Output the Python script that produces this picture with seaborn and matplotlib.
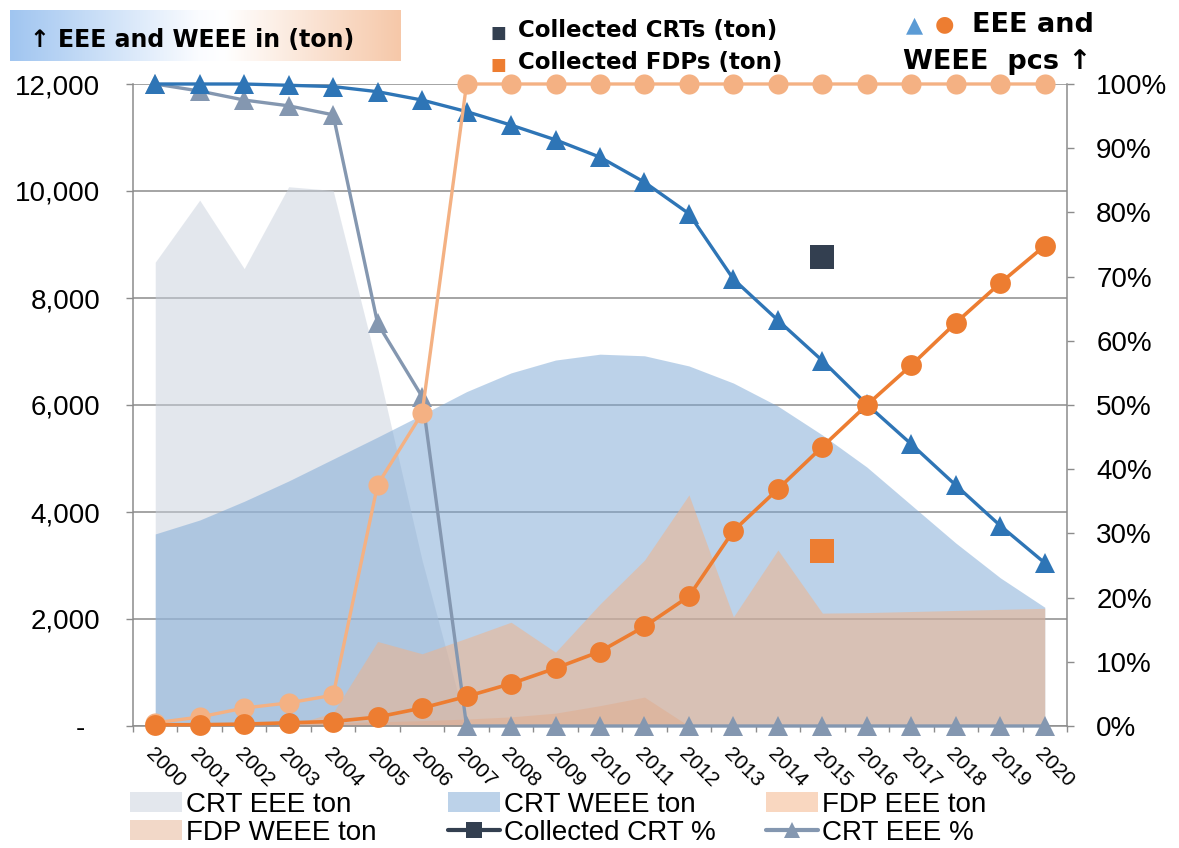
import numpy as np
import pandas as pd
import matplotlib
matplotlib.use("Agg")
import matplotlib.pyplot as plt
import seaborn as sns
from matplotlib.lines import Line2D
from matplotlib.patches import Patch
from matplotlib.colors import LinearSegmentedColormap
from matplotlib.ticker import FixedLocator, FuncFormatter

# ---------------- data ----------------
years = list(range(2000, 2021))
year_labels = [str(y) for y in years]

# tonnes (left axis)
crt_eee_ton = [8670, 9830, 8550, 10080, 10010, 6700, 3100, 0, 0, 0, 0,
               0, 0, 0, 0, 0, 0, 0, 0, 0, 0]
crt_weee_ton = [3590, 3850, 4200, 4580, 4990, 5400, 5820, 6250, 6600, 6840, 6950,
                6920, 6730, 6410, 5980, 5440, 4840, 4130, 3420, 2770, 2220]
fdp_eee_ton = [0, 0, 0, 0, 250, 1580, 1350, 1640, 1940, 1380, 2280,
               3100, 4320, 2040, 3290, 2110, 2120, 2140, 2160, 2180, 2200]
fdp_weee_ton = [0, 0, 20, 40, 60, 80, 100, 130, 170, 240, 380,
                540, 0, 0, 0, 0, 0, 0, 0, 0, 0]

# percentages (right axis)
crt_weee_pct = [100, 100, 100, 99.8, 99.6, 98.8, 97.5, 95.7, 93.6, 91.3, 88.6,
                84.7, 79.8, 69.6, 63.2, 56.9, 50.1, 43.9, 37.5, 31.2, 25.4]
crt_eee_pct = [100, 98.9, 97.5, 96.6, 95.2, 62.7, 51.3, 0, 0, 0, 0,
               0, 0, 0, 0, 0, 0, 0, 0, 0, 0]
fdp_eee_pct = [0.5, 1.4, 2.8, 3.6, 4.8, 37.6, 48.7, 100, 100, 100, 100,
               100, 100, 100, 100, 100, 100, 100, 100, 100, 100]
fdp_weee_pct = [0.2, 0.2, 0.3, 0.5, 0.7, 1.4, 2.8, 4.6, 6.6, 9.0, 11.6,
                15.5, 20.2, 30.4, 36.9, 43.5, 50.0, 56.2, 62.8, 69.0, 74.8]
collected_crt_pct = [73.05]
collected_fdp_pct = [27.3]
collected_year = [2015]

left_ticks = [0, 2000, 4000, 6000, 8000, 10000, 12000]
left_tick_labels = ["-  ", "2,000", "4,000", "6,000", "8,000", "10,000", "12,000"]

# ---------------- style ----------------
sns.set_theme(style="white")
plt.rcParams["font.family"] = ["Liberation Sans", "DejaVu Sans"]
plt.rcParams["text.color"] = "black"
plt.rcParams["xtick.color"] = "black"
plt.rcParams["ytick.color"] = "black"

C_GRID = "#8C8C8C"
C_CRT_EEE = "#C9D1DD"
C_CRT_WEEE = "#7BA7D5"
C_FDP_EEE = "#F4B183"
C_FDP_WEEE = "#E3A987"
C_BLUE = "#2E75B6"
C_GRAY = "#8497B0"
C_LORANGE = "#F4B183"
C_ORANGE = "#ED7D31"
C_NAVY = "#333F50"

W, H = 1179, 848
fig = plt.figure(figsize=(W / 100, H / 100), dpi=100)
ax = fig.add_axes([133 / W, 1 - 726 / H, (1067 - 133) / W, (726 - 84) / H])
ax2 = ax.twinx()

x = np.arange(len(years))
year_idx = {y: i for i, y in enumerate(years)}

# ---------------- areas (left axis) ----------------
ax.fill_between(x, 0, crt_eee_ton, color=C_CRT_EEE, alpha=0.5, linewidth=0, zorder=2)
ax.fill_between(x, 0, crt_weee_ton, color=C_CRT_WEEE, alpha=0.5, linewidth=0, zorder=2)
ax.fill_between(x, 0, fdp_eee_ton, color=C_FDP_EEE, alpha=0.5, linewidth=0, zorder=2)
ax.fill_between(x, 0, fdp_weee_ton, color=C_FDP_WEEE, alpha=0.45, linewidth=0, zorder=2)

ax.set_xlim(-0.5, 20.5)
ax.set_ylim(0, 12000)
ax.set_axisbelow(True)
ax.yaxis.grid(True, color=C_GRID, linewidth=1.1)
ax.xaxis.grid(False)

ax.yaxis.set_major_locator(FixedLocator(left_ticks))
ax.set_yticklabels(left_tick_labels)
ax.tick_params(axis="y", which="major", length=5, width=1, color=C_GRID,
               direction="out", pad=18.5, labelsize=20, left=True,
               labelcolor="black")

ax.set_xticks(x)
ax.set_xticklabels(year_labels, rotation=-45, ha="left", va="top",
                   rotation_mode="anchor", fontsize=15, color="black")
ax.tick_params(axis="x", which="major", length=0, pad=13, bottom=True)
ax.set_xticks(np.arange(-0.5, 21, 1.0), minor=True)
ax.tick_params(axis="x", which="minor", length=4.5, width=1, color=C_GRID,
               direction="out", bottom=True)

for side in ["left", "right", "bottom"]:
    ax.spines[side].set_color(C_GRID)
    ax.spines[side].set_linewidth(1.1)
ax.spines["top"].set_visible(False)

# ---------------- lines (right axis) ----------------
common = dict(ax=ax2, clip_on=False, markeredgewidth=0, legend=False)
sns.lineplot(x=x, y=np.array(crt_eee_pct) / 100, color=C_GRAY, marker="^",
             markersize=14, linewidth=2.4, zorder=3, **common)
sns.lineplot(x=x, y=np.array(crt_weee_pct) / 100, color=C_BLUE, marker="^",
             markersize=14, linewidth=2.4, zorder=4, **common)
sns.lineplot(x=x, y=np.array(fdp_eee_pct) / 100, color=C_LORANGE, marker="o",
             markersize=14.5, linewidth=2.4, zorder=5, **common)
sns.lineplot(x=x, y=np.array(fdp_weee_pct) / 100, color=C_ORANGE, marker="o",
             markersize=15, linewidth=2.6, zorder=6, **common)

cx = [year_idx[y] for y in collected_year]
sns.scatterplot(x=cx, y=np.array(collected_crt_pct) / 100, ax=ax2, color=C_NAVY,
                marker="s", s=17.5 ** 2, linewidth=0, zorder=7, legend=False)
sns.scatterplot(x=cx, y=np.array(collected_fdp_pct) / 100, ax=ax2, color=C_ORANGE,
                marker="s", s=17.5 ** 2, linewidth=0, zorder=7, legend=False)

ax2.set_ylim(0, 1)
ax2.set_xlim(-0.5, 20.5)
ax2.yaxis.set_major_locator(FixedLocator(np.linspace(0, 1, 11)))
ax2.yaxis.set_major_formatter(FuncFormatter(lambda v, p: f"{v * 100:.0f}%"))
ax2.tick_params(axis="y", which="major", length=5, width=1, color=C_GRID,
                direction="out", pad=16, labelsize=20, right=True,
                labelcolor="black")
ax2.grid(False)
for side in ["left", "right", "bottom", "top"]:
    ax2.spines[side].set_visible(False)
ax.spines["right"].set_visible(True)

# ---------------- gradient title box ----------------
gax = fig.add_axes([10 / W, 1 - 61 / H, 390 / W, 51 / H])
cmap = LinearSegmentedColormap.from_list(
    "g", [(0.0, "#A0C5F0"), (0.48, "#FAFCFF"), (0.55, "#FFFFFF"), (1.0, "#F6C8A9")])
gax.imshow(np.linspace(0, 1, 256)[None, :], aspect="auto", cmap=cmap,
           extent=[0, 1, 0, 1])
gax.set_axis_off()
fig.text(30 / W, 1 - 40 / H, "↑ EEE and WEEE in (ton)", fontsize=17,
         fontweight="bold", family=["DejaVu Sans"], va="center", ha="left")

# top legend-like texts
fig.text(491 / W, 1 - 33 / H, "■", color=C_NAVY, fontsize=12,
         family=["DejaVu Sans"], va="center", ha="left")
fig.text(518 / W, 1 - 30 / H, "Collected CRTs (ton)", fontsize=16.5,
         fontweight="bold", family=["DejaVu Sans"], va="center", ha="left")
fig.text(491 / W, 1 - 65 / H, "■", color=C_ORANGE, fontsize=12,
         family=["DejaVu Sans"], va="center", ha="left")
fig.text(518 / W, 1 - 62 / H, "Collected FDPs (ton)", fontsize=16.5,
         fontweight="bold", family=["DejaVu Sans"], va="center", ha="left")

# top-right label
fig.text(906 / W, 1 - 25 / H, "▲", color="#5B9BD5", fontsize=16,
         family=["DejaVu Sans"], va="center", ha="left")
fig.text(935 / W, 1 - 24 / H, "●", color=C_ORANGE, fontsize=16,
         family=["DejaVu Sans"], va="center", ha="left")
fig.text(972 / W, 1 - 25 / H, "EEE and", fontsize=19.5,
         fontweight="bold", family=["DejaVu Sans"], va="center", ha="left")
fig.text(903 / W, 1 - 62 / H, "WEEE  pcs ↑", fontsize=19.5,
         fontweight="bold", family=["DejaVu Sans"], va="center", ha="left")

# ---------------- bottom legend ----------------
leg_kw = dict(loc="upper left", frameon=False, borderpad=0, borderaxespad=0,
              handlelength=1.87, handleheight=0.72, handletextpad=0.15,
              labelspacing=0.07, fontsize=20)
top_y = 1 - 792 / H
h_crt_eee = Patch(facecolor=C_CRT_EEE, alpha=0.5, linewidth=0)
h_crt_weee = Patch(facecolor=C_CRT_WEEE, alpha=0.5, linewidth=0)
h_fdp_eee = Patch(facecolor=C_FDP_EEE, alpha=0.5, linewidth=0)
h_fdp_weee = Patch(facecolor=C_FDP_WEEE, alpha=0.45, linewidth=0)
h_coll = Line2D([], [], color=C_NAVY, linewidth=3, marker="s", markersize=11,
                markeredgewidth=0)
h_crtpct = Line2D([], [], color=C_GRAY, linewidth=3, marker="^", markersize=11,
                  markeredgewidth=0)

fig.legend([h_crt_eee, h_fdp_weee], ["CRT EEE ton", "FDP WEEE ton"],
           bbox_to_anchor=(130 / W, top_y), **leg_kw)
fig.legend([h_crt_weee, h_coll], ["CRT WEEE ton", "Collected CRT %"],
           bbox_to_anchor=(448 / W, top_y), **leg_kw)
fig.legend([h_fdp_eee, h_crtpct], ["FDP EEE ton", "CRT EEE %"],
           bbox_to_anchor=(766 / W, top_y), **leg_kw)

fig.savefig("out.png", dpi=100)
